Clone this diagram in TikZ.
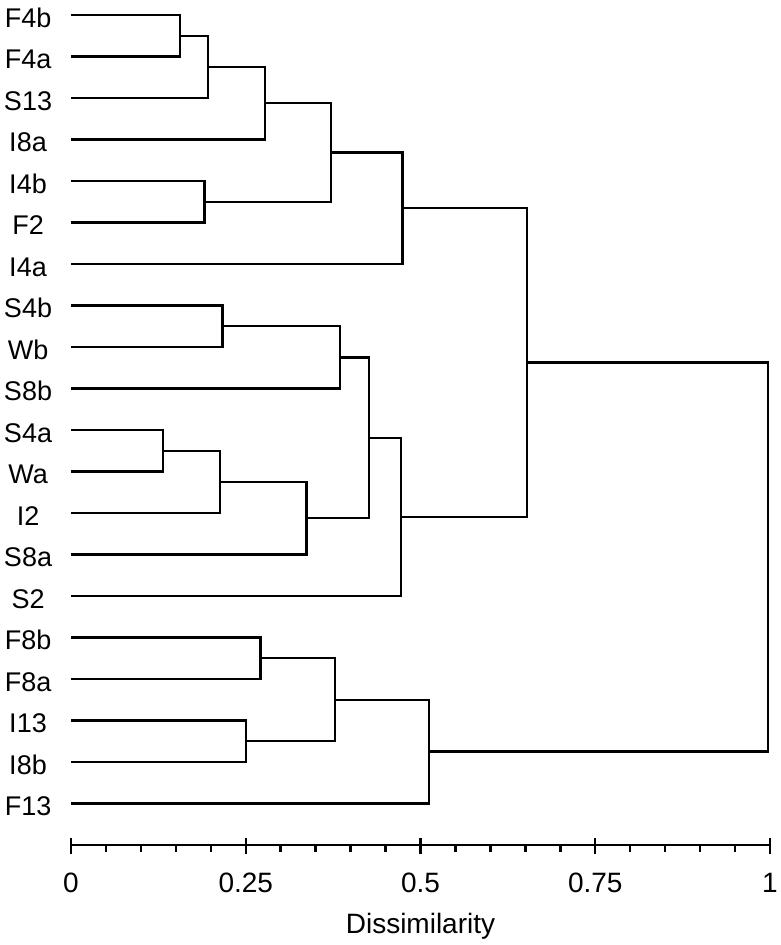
\documentclass[tikz,border=0pt]{standalone}
\usepackage{fontspec}
\setmainfont{Liberation Sans}
\begin{document}
\begin{tikzpicture}[x=699pt, y=-41.5pt, line width=2.4pt,
  leaflabel/.style={anchor=base, font=\fontsize{27}{32}\selectfont, yshift=-12pt},
  link/.style={draw, line width=2.4pt},
  ticklabel/.style={anchor=base, font=\fontsize{28}{33}\selectfont, yshift=-47pt}]
  \useasboundingbox (-71pt,15pt) rectangle (709pt,-930pt);
  % leaves and their labels
  \foreach \name [count=\i from 0] in {F4b,F4a,S13,I8a,I4b,F2,I4a,S4b,Wb,S8b,S4a,Wa,I2,S8a,S2,F8b,F8a,I13,I8b,F13} {
    \coordinate (\name) at (0,\i);
    \node[leaflabel] (lab\name) at (-0.0615,\i) {\name};
  }
  % merge points (height, mean row)
  \coordinate (a1) at (0.156,0.5);
  \coordinate (a2) at (0.196,1.25);
  \coordinate (a3) at (0.2775,2.125);
  \coordinate (a4) at (0.191,4.5);
  \coordinate (a5) at (0.372,3.3125);
  \coordinate (a6) at (0.474,4.656);
  \coordinate (b1) at (0.217,7.5);
  \coordinate (b2) at (0.385,8.25);
  \coordinate (b3) at (0.132,10.5);
  \coordinate (b4) at (0.213,11.25);
  \coordinate (b5) at (0.337,12.125);
  \coordinate (b6) at (0.426,10.1875);
  \coordinate (b7) at (0.472,12.094);
  \coordinate (c0) at (0.652,8.375);
  \coordinate (f1) at (0.271,15.5);
  \coordinate (f2) at (0.250,17.5);
  \coordinate (f3) at (0.378,16.5);
  \coordinate (f4) at (0.512,17.75);
  \coordinate (root) at (0.997,13.06);
  % links
  \draw[link] (F4b) -| (a1) |- (F4a);
  \draw[link] (a1) -| (a2) |- (S13);
  \draw[link] (a2) -| (a3) |- (I8a);
  \draw[link] (I4b) -| (a4) |- (F2);
  \draw[link] (a3) -| (a5) |- (a4);
  \draw[link] (a5) -| (a6) |- (I4a);
  \draw[link] (S4b) -| (b1) |- (Wb);
  \draw[link] (b1) -| (b2) |- (S8b);
  \draw[link] (S4a) -| (b3) |- (Wa);
  \draw[link] (b3) -| (b4) |- (I2);
  \draw[link] (b4) -| (b5) |- (S8a);
  \draw[link] (b2) -| (b6) |- (b5);
  \draw[link] (b6) -| (b7) |- (S2);
  \draw[link] (a6) -| (c0) |- (b7);
  \draw[link] (F8b) -| (f1) |- (F8a);
  \draw[link] (I13) -| (f2) |- (I8b);
  \draw[link] (f1) -| (f3) |- (f2);
  \draw[link] (f3) -| (f4) |- (F13);
  \draw[link] (c0) -| (root) |- (f4);
  % axis
  \coordinate (ax0) at (0,20);
  \coordinate (ax1) at (1,20);
  \draw (ax0) -- (ax1);
  \foreach \k in {1,...,19}
    \draw (\k/20,20) -- ++(0,-7pt);
  \foreach \t [count=\j] in {0,0.25,0.5,0.75,1} {
    \draw (\t,20) ++(0,6.6pt) -- ++(0,-15.6pt);
    \node[ticklabel] (tick\j) at (\t,20) {\t};
  }
  \node[anchor=base, font=\fontsize{28}{33}\selectfont, yshift=-88pt] (xlabel) at (0.5,20) {Dissimilarity};
\end{tikzpicture}
\end{document}
